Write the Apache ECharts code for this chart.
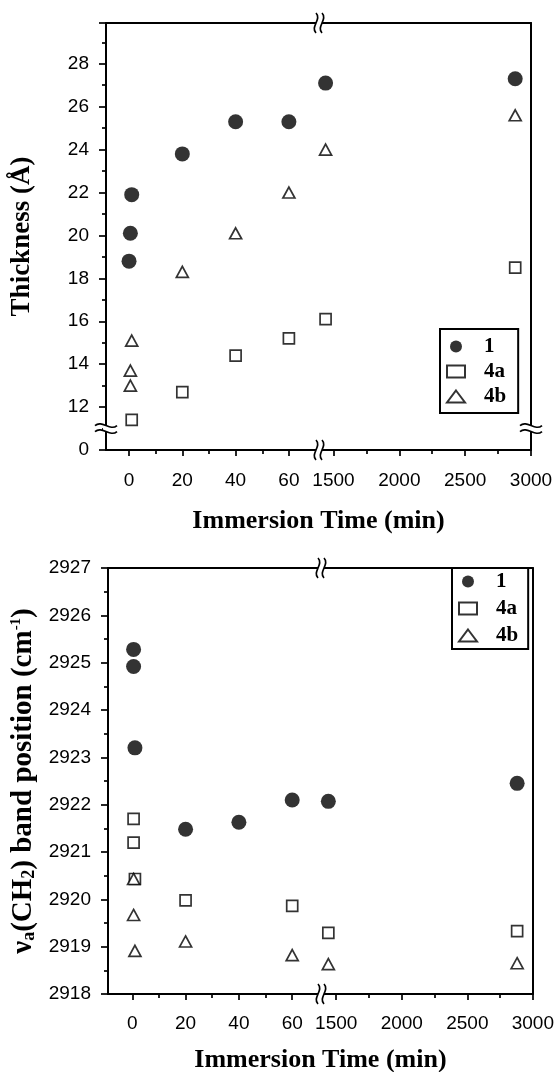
<!DOCTYPE html>
<html>
<head>
<meta charset="utf-8">
<script src="https://cdn.jsdelivr.net/npm/echarts@6/dist/echarts.min.js"></script>
<style>
html, body { margin: 0; padding: 0; background: #fff; }
#chart { width: 557px; height: 1072px; }
</style>
</head>
<body>
<div id="chart"></div>
<script>
// top panel: film thickness vs immersion time
const thickTime1 = [0, 0.5, 1, 20, 40, 60, 1440, 2880]
const thick1 = [18.8, 20.1, 21.9, 23.8, 25.3, 25.3, 27.1, 27.3]
const thickTime4a = [1, 20, 40, 60, 1440, 2880]
const thick4a = [11.4, 12.7, 14.4, 15.2, 16.1, 18.5]
const thickTime4b = [0.5, 0.5, 1, 20, 40, 60, 1440, 2880]
const thick4b = [13.0, 13.7, 15.1, 18.3, 20.1, 22.0, 24.0, 25.6]

// bottom panel: CH2 asymmetric stretch position
const bandTime1 = [0.5, 0.5, 1, 20, 40, 60, 1440, 2880]
const band1 = [2925.28, 2924.92, 2923.2, 2921.48, 2921.63, 2922.1, 2922.07, 2922.45]
const bandTime4a = [0.5, 0.5, 1, 20, 60, 1440, 2880]
const band4a = [2921.7, 2921.2, 2920.43, 2919.98, 2919.86, 2919.29, 2919.33]
const bandTime4b = [0.5, 0.5, 1, 20, 60, 1440, 2880]
const band4b = [2920.43, 2919.67, 2918.91, 2919.11, 2918.82, 2918.63, 2918.65]

// tick labels of the broken time axis
const earlyLabels = [0, 20, 40, 60]
const earlyMinor = [10, 30, 50]
const lateLabels = [1500, 2000, 2500, 3000]
const lateMinor = [1750, 2250, 2750]

const seriesNames = ['1', '4a', '4b']

const chart = echarts.init(document.getElementById('chart'))

const black = '#000'
const labelFont = { color: black, fontFamily: 'Liberation Sans', fontSize: 19 }
const titleFont = 'bold 26px "Liberation Serif"'

const splitAt = (times, vals) => {
	const early = []
	const late = []
	times.forEach((t, i) => {
		if (t < 100) early.push([t, vals[i]])
		else late.push([t, vals[i]])
	})
	return { early, late }
}

const markerStyle = {
	'1': { symbol: 'circle', symbolSize: 15, itemStyle: { color: black } },
	'4a': { symbol: 'rect', symbolSize: 11, itemStyle: { color: '#fff', borderColor: black, borderWidth: 1.7 } },
	'4b': { symbol: 'triangle', symbolSize: [12, 11], itemStyle: { color: '#fff', borderColor: black, borderWidth: 1.7 } },
}

// x axes for one grid: main ticks + labels, minor ticks, top frame line
const xAxesFor = (gridIndex, min, max, major, minor, labelMargin) => [
	{
		type: 'value', gridIndex, min, max, position: 'bottom',
		axisLine: { onZero: false, lineStyle: { color: black, width: 2 } },
		axisTick: { customValues: major, length: 6, lineStyle: { color: black, width: 1.7 } },
		axisLabel: { customValues: major, margin: labelMargin, formatter: v => String(v), ...labelFont },
		splitLine: { show: false },
	},
	{
		type: 'value', gridIndex, min, max, position: 'bottom',
		axisLine: { show: false, onZero: false },
		axisTick: { customValues: minor, length: 4, lineStyle: { color: black, width: 1.7 } },
		axisLabel: { show: false },
		splitLine: { show: false },
	},
	{
		type: 'value', gridIndex, min, max, position: 'top',
		axisLine: { onZero: false, lineStyle: { color: black, width: 2 } },
		axisTick: { show: false },
		axisLabel: { show: false },
		splitLine: { show: false },
	},
]

const yMain = (gridIndex, min, max, interval, formatter, name, nameSize, rich) => ({
	type: 'value', gridIndex, min, max, interval, position: 'left',
	axisLine: { onZero: false, lineStyle: { color: black, width: 2 } },
	axisTick: { length: 7, lineStyle: { color: black, width: 1.7 } },
	minorTick: { show: true, splitNumber: 2, length: 4, lineStyle: { color: black, width: 1.7 } },
	axisLabel: { margin: 17, formatter, showMaxLabel: min === 10 ? false : true, ...labelFont },
	splitLine: { show: false },
	name,
	nameLocation: 'middle',
	nameGap: 70,
	nameRotate: 90,
	nameTextStyle: {
		color: black, fontFamily: 'Liberation Serif', fontWeight: 'bold', fontSize: nameSize, rich,
	},
})

const yRight = (gridIndex, min, max) => ({
	type: 'value', gridIndex, min, max, position: 'right',
	axisLine: { onZero: false, lineStyle: { color: black, width: 2 } },
	axisTick: { show: false },
	axisLabel: { show: false },
	splitLine: { show: false },
})

const thickData = {
	'1': splitAt(thickTime1, thick1),
	'4a': splitAt(thickTime4a, thick4a),
	'4b': splitAt(thickTime4b, thick4b),
}
const bandData = {
	'1': splitAt(bandTime1, band1),
	'4a': splitAt(bandTime4a, band4a),
	'4b': splitAt(bandTime4b, band4b),
}

const series = []
const addPanel = (data, xEarly, xLate, yLeft, yRt) => {
	seriesNames.forEach(name => {
		const st = markerStyle[name]
		series.push({ type: 'scatter', name, xAxisIndex: xEarly, yAxisIndex: yLeft, data: data[name].early, ...st })
		series.push({ type: 'scatter', name, xAxisIndex: xLate, yAxisIndex: yRt, data: data[name].late, ...st })
	})
}
addPanel(thickData, 0, 3, 0, 1)
addPanel(bandData, 6, 9, 2, 3)

const legendBase = {
	orient: 'vertical',
	data: seriesNames,
	borderColor: black,
	borderWidth: 2,
	borderRadius: 0,
	backgroundColor: '#fff',
	itemWidth: 18,
	itemHeight: 12,
	selectedMode: false,
	textStyle: {
		color: black, fontFamily: 'Liberation Serif', fontWeight: 'bold', fontSize: 21,
		padding: [0, 0, 0, 14],
	},
}

const bandRich = {
	sub: { fontFamily: 'Liberation Serif', fontWeight: 'bold', fontSize: 18, verticalAlign: 'bottom', padding: [11, 0, 0, 0] },
	sup: { fontFamily: 'Liberation Serif', fontWeight: 'bold', fontSize: 15, verticalAlign: 'top', padding: [0, 0, 11, 0] },
}

chart.setOption({
	animation: false,
	backgroundColor: '#fff',
	grid: [
		{ left: 106, top: 23, width: 213, height: 427 },
		{ left: 319, top: 23, width: 212, height: 427 },
		{ left: 108, top: 568, width: 213, height: 426 },
		{ left: 321, top: 568, width: 212, height: 426 },
	],
	xAxis: [
		...xAxesFor(0, -8.65, 71.3, earlyLabels, earlyMinor, 21),
		...xAxesFor(1, 1390, 3000, lateLabels, lateMinor, 21),
		...xAxesFor(2, -9.1, 70.8, earlyLabels, earlyMinor, 20),
		...xAxesFor(3, 1384, 3000, lateLabels, lateMinor, 20),
	],
	yAxis: [
		yMain(0, 10, 29.9, 2, v => (v === 10 ? '0' : String(v)), 'Thickness (Å)', 27),
		yRight(1, 10, 29.9),
		yMain(2, 2918, 2927, 1, v => String(v), 'ν{sub|a}(CH{sub|2}) band position (cm{sup|-1})', 29, bandRich),
		yRight(3, 2918, 2927),
	],
	legend: [
		{ ...legendBase, left: 440, top: 329, padding: [7, 12, 6, 6], itemGap: 4 },
		{ ...legendBase, left: 452, top: 568, padding: [3, 10, 3, 6], itemGap: 6 },
	],
	series,
})

// axis break marks, placed from the axes' own pixel positions
const waveV = (x, y) => ({
	type: 'bezierCurve', z: 100,
	shape: { x1: x, y1: y - 10, cpx1: x + 6, cpy1: y - 4, cpx2: x - 6, cpy2: y + 4, x2: x, y2: y + 10 },
	style: { stroke: black, lineWidth: 1.7, fill: null },
})
const waveH = (x, y) => ({
	type: 'bezierCurve', z: 100,
	shape: { x1: x - 11, y1: y, cpx1: x - 4, cpy1: y - 6, cpx2: x + 4, cpy2: y + 6, x2: x + 11, y2: y },
	style: { stroke: black, lineWidth: 1.7, fill: null },
})
const breakOnHLine = (x, y) => [
	{ type: 'rect', z: 99, shape: { x: x - 3, y: y - 2, width: 6, height: 4 }, style: { fill: '#fff' } },
	waveV(x - 3, y),
	waveV(x + 3, y),
]
const breakOnVLine = (x, y) => [
	{ type: 'rect', z: 99, shape: { x: x - 3, y: y - 3, width: 6, height: 6 }, style: { fill: '#fff' } },
	waveH(x, y - 3),
	waveH(x, y + 3),
]

const px = (opt, v) => chart.convertToPixel(opt, v)
const topBreakX = px({ xAxisIndex: 3 }, 1390)
const botBreakX = px({ xAxisIndex: 9 }, 1384)
const topY0 = px({ yAxisIndex: 0 }, 10)
const topY1 = px({ yAxisIndex: 0 }, 29.9)
const botY0 = px({ yAxisIndex: 2 }, 2918)
const botY1 = px({ yAxisIndex: 2 }, 2927)
const yBreak = px({ yAxisIndex: 0 }, 11)
const leftX = px({ xAxisIndex: 0 }, -8.65)
const rightX = px({ xAxisIndex: 3 }, 3000)

const panelCenterTop = (leftX + rightX) / 2
const panelCenterBot = (px({ xAxisIndex: 6 }, -9.1) + px({ xAxisIndex: 9 }, 3000)) / 2

chart.setOption({
	graphic: [
		...breakOnHLine(topBreakX, topY1),
		...breakOnHLine(topBreakX, topY0),
		...breakOnHLine(botBreakX, botY1),
		...breakOnHLine(botBreakX, botY0),
		...breakOnVLine(leftX, yBreak),
		...breakOnVLine(rightX, yBreak),
		{
			type: 'text', x: panelCenterTop, y: 521,
			style: { text: 'Immersion Time (min)', font: titleFont, fill: black, align: 'center', verticalAlign: 'middle' },
		},
		{
			type: 'text', x: panelCenterBot, y: 1060,
			style: { text: 'Immersion Time (min)', font: titleFont, fill: black, align: 'center', verticalAlign: 'middle' },
		},
	],
})
</script>
</body>
</html>
